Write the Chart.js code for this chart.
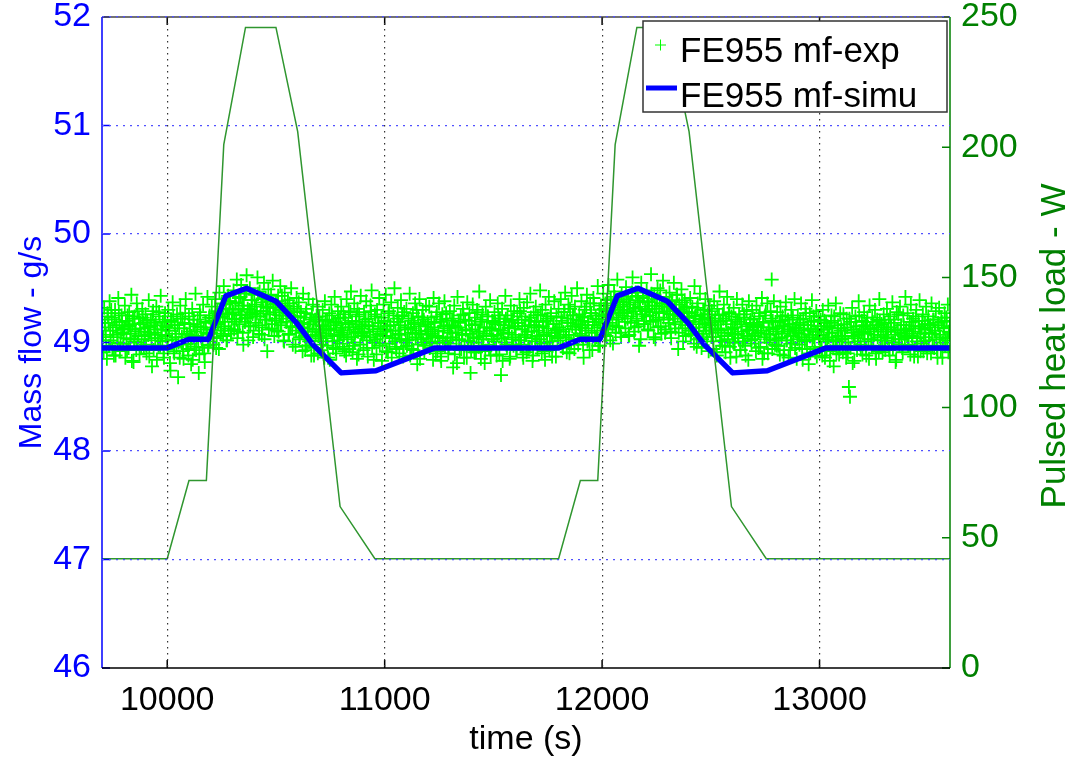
<!DOCTYPE html>
<html>
<head>
<meta charset="utf-8">
<script src="https://cdn.jsdelivr.net/npm/chart.js@4"></script>
<style>
  html, body { margin: 0; padding: 0; background: #fff; }
  canvas { display: block; }
</style>
</head>
<body>
<canvas id="chart" width="1074" height="760"></canvas>
<script>
// axes
const xMin = 9700, xMax = 13600;
const xTicks = [10000, 11000, 12000, 13000];
const flowTicks = [46, 47, 48, 49, 50, 51, 52];
const heatTicks = [0, 50, 100, 150, 200, 250];

// FE955 mf-exp, sampled every 5 s; run A starts at 9700 s, run B at 9702.5 s
const expStep = 5;
const expStartA = 9700;
const expFlowA = [
  49.21, 49.05, 49.32, 49.14, 48.96, 49.27, 49.18, 49.38, 49.02, 49.23, 49.11, 48.88, 49.30, 49.16, 49.07, 49.41, 49.19, 48.99, 49.25, 49.12,
  49.08, 49.34, 49.20, 48.93, 49.15, 49.28, 49.03, 49.44, 49.17, 48.82, 49.24, 49.10, 49.36, 49.00, 49.22, 49.13, 48.95, 49.31, 49.18, 49.06,
  49.26, 48.90, 49.14, 49.39, 49.09, 49.21, 48.78, 49.29, 49.16, 49.04, 49.33, 49.12, 48.97, 49.24, 49.43, 49.07, 49.19, 48.86, 49.27, 49.15,
  49.02, 49.30, 49.11, 48.74, 49.20, 49.37, 48.92, 49.16, 49.05, 49.26, 48.68, 49.13, 49.34, 49.00, 49.22, 48.85, 49.18, 49.40, 49.08, 48.94,
  49.24, 49.10, 48.80, 49.31, 49.17, 48.96, 49.45, 49.06, 49.21, 48.72, 49.28, 49.14, 49.03, 49.35, 48.90, 49.19, 49.09, 49.42, 48.98, 49.25,
  49.12, 49.33, 49.05, 49.22, 49.40, 48.95, 49.29, 49.18, 49.46, 49.08, 49.36, 49.24, 49.52, 49.15, 49.31, 49.02, 49.43, 49.27, 49.38, 49.11,
  49.30, 49.48, 49.19, 49.37, 49.58, 49.10, 49.41, 49.26, 49.53, 49.34, 48.98, 49.45, 49.22, 49.62, 49.31, 49.15, 49.50, 49.28, 49.39, 49.05,
  49.44, 49.24, 49.35, 49.60, 49.16, 49.47, 49.29, 49.07, 49.40, 49.55, 49.21, 49.33, 48.92, 49.49, 49.26, 49.38, 49.13, 49.57, 49.32, 49.20,
  49.36, 49.11, 49.43, 49.25, 49.52, 49.18, 49.30, 49.02, 49.46, 49.34, 49.22, 49.39, 49.08, 49.28, 49.50, 49.15, 49.33, 49.24, 48.96, 49.41,
  49.19, 49.37, 49.05, 49.28, 49.14, 49.45, 49.23, 48.93, 49.31, 49.10, 49.40, 49.17, 49.02, 49.26, 49.35, 48.88, 49.21, 49.12, 49.33, 49.06,
  49.24, 49.09, 48.98, 49.30, 49.15, 49.38, 49.04, 49.21, 48.86, 49.27, 49.12, 49.35, 49.01, 49.19, 49.42, 48.94, 49.16, 49.29, 49.07, 49.23,
  49.33, 49.11, 49.26, 48.92, 49.18, 49.40, 49.05, 49.29, 49.14, 49.47, 49.20, 48.97, 49.36, 49.09, 49.24, 49.31, 48.89, 49.17, 49.43, 49.13,
  49.06, 49.28, 49.19, 49.38, 48.95, 49.22, 49.10, 49.34, 49.48, 49.15, 48.84, 49.26, 49.03, 49.30, 49.18, 49.41, 49.08, 49.23, 48.99, 49.35,
  49.20, 49.44, 49.12, 48.91, 49.29, 49.16, 49.37, 49.04, 49.25, 49.50, 49.11, 48.96, 49.32, 49.19, 49.07, 49.39, 49.24, 48.87, 49.28, 49.14,
  49.31, 49.02, 49.22, 49.45, 49.13, 48.94, 49.27, 49.18, 49.36, 49.08, 48.80, 49.24, 49.40, 49.15, 49.03, 49.30, 49.21, 48.97, 49.34, 49.10,
  49.17, 49.33, 48.99, 49.23, 49.08, 49.41, 49.14, 48.90, 49.28, 49.05, 49.36, 49.19, 48.83, 49.26, 49.11, 49.38, 49.00, 49.22, 49.13, 48.95,
  49.29, 49.09, 49.20, 48.77, 49.34, 49.15, 49.02, 49.42, 49.18, 48.93, 49.25, 49.07, 49.31, 48.86, 49.21, 49.12, 49.37, 49.01, 49.27, 48.72,
  49.16, 49.35, 49.04, 49.23, 48.91, 49.30, 49.10, 49.47, 49.19, 48.97, 49.26, 49.06, 48.81, 49.33, 49.14, 49.24, 48.95, 49.39, 49.11, 49.20,
  49.03, 49.28, 49.17, 48.88, 49.36, 49.12, 49.22, 48.70, 49.31, 49.08, 49.19, 49.43, 48.98, 49.25, 49.14, 48.85, 49.34, 49.05, 49.21, 49.29,
  49.13, 48.94, 49.27, 49.18, 49.40, 49.02, 49.24, 48.89, 49.32, 49.15, 49.07, 49.37, 48.96, 49.20, 49.45, 49.10, 48.83, 49.28, 49.16, 49.33,
  49.06, 49.25, 49.14, 49.48, 48.99, 49.30, 49.19, 48.92, 49.35, 49.09, 49.22, 49.42, 49.01, 49.27, 48.87, 49.17, 49.38, 49.11, 49.24, 49.04,
  49.31, 49.12, 49.40, 49.20, 48.95, 49.28, 49.46, 49.07, 49.22, 49.35, 48.90, 49.18, 49.43, 49.25, 49.03, 49.33, 49.15, 49.50, 48.98, 49.26,
  49.14, 49.38, 49.23, 48.86, 49.30, 49.11, 49.44, 49.19, 49.02, 49.36, 49.27, 48.93, 49.41, 49.16, 49.25, 49.05, 49.52, 49.21, 48.97, 49.34,
  49.24, 49.45, 49.13, 49.36, 49.06, 49.29, 49.53, 49.18, 49.40, 49.27, 48.99, 49.47, 49.32, 49.15, 49.58, 49.23, 49.38, 49.09, 49.44, 49.30,
  49.35, 49.19, 49.51, 49.28, 49.42, 49.07, 49.37, 49.24, 49.60, 49.31, 49.14, 49.46, 49.22, 49.39, 48.97, 49.33, 49.55, 49.26, 49.43, 49.17,
  49.29, 49.48, 49.12, 49.37, 49.25, 49.63, 49.34, 49.20, 49.44, 49.03, 49.31, 49.50, 49.23, 49.40, 49.15, 49.36, 49.57, 49.27, 49.09, 49.42,
  49.33, 49.21, 49.46, 49.10, 49.38, 49.26, 49.55, 49.17, 49.30, 49.44, 48.94, 49.35, 49.24, 49.49, 49.13, 49.28, 49.39, 49.06, 49.32, 49.20,
  49.27, 49.41, 49.08, 49.33, 49.19, 49.52, 49.25, 48.96, 49.36, 49.14, 49.45, 49.22, 49.03, 49.30, 49.17, 49.40, 49.11, 49.26, 48.92, 49.34,
  49.16, 49.29, 49.05, 49.38, 49.22, 48.91, 49.31, 49.12, 49.47, 49.19, 49.02, 49.26, 49.35, 48.97, 49.20, 49.42, 49.09, 49.28, 48.86, 49.24,
  49.13, 49.32, 49.00, 49.21, 49.40, 49.08, 49.26, 48.93, 49.17, 49.35, 49.04, 49.23, 48.88, 49.29, 49.11, 49.38, 49.18, 49.02, 49.30, 49.14,
  49.22, 49.06, 49.34, 49.15, 48.95, 49.27, 49.11, 49.41, 49.19, 48.90, 49.25, 49.08, 49.36, 49.14, 49.03, 49.29, 49.58, 49.20, 49.38, 48.98,
  49.10, 49.28, 48.97, 49.19, 49.33, 49.05, 49.24, 48.88, 49.15, 49.37, 49.02, 49.21, 49.12, 48.93, 49.30, 49.17, 49.06, 49.40, 49.13, 48.85,
  49.25, 49.08, 49.18, 49.36, 48.94, 49.22, 49.11, 49.31, 49.02, 49.16, 48.80, 49.27, 49.13, 49.39, 49.05, 49.20, 48.91, 49.29, 49.10, 49.24,
  49.07, 49.21, 48.95, 49.30, 49.12, 48.86, 49.18, 49.03, 49.34, 49.14, 48.92, 49.25, 49.09, 48.78, 49.20, 49.36, 49.01, 49.16, 48.89, 49.27,
  49.13, 49.04, 49.26, 49.11, 48.97, 49.22, 48.90, 48.59, 48.50, 49.19, 49.32, 49.06, 48.83, 49.24, 49.15, 49.01, 49.38, 49.10, 48.94, 49.20,
  49.09, 49.28, 49.16, 48.88, 49.23, 49.03, 49.34, 49.12, 48.96, 49.19, 49.07, 49.30, 48.85, 49.21, 49.14, 49.40, 49.02, 49.17, 48.91, 49.26,
  49.18, 49.05, 49.31, 49.10, 48.93, 49.24, 49.14, 49.37, 49.00, 49.21, 48.82, 49.28, 49.11, 49.03, 49.33, 49.16, 48.95, 49.25, 49.08, 49.42,
  49.12, 49.27, 48.98, 49.19, 49.35, 49.06, 49.22, 48.87, 49.15, 49.30, 49.04, 49.20, 49.39, 48.92, 49.13, 49.26, 49.01, 49.17, 49.33, 48.90,
  49.24, 49.09, 49.16, 49.36, 48.97, 49.21, 49.11, 49.29, 48.94, 49.18, 49.32, 49.05, 49.23, 48.86, 49.14, 49.27, 49.02, 49.20, 49.35, 49.10,
  49.15
];
const expStartB = 9702.5;
const expFlowB = [
  49.02, 48.91, 49.18, 49.07, 48.85, 49.24, 48.97, 49.11, 49.30, 48.94, 49.05, 49.21, 48.88, 49.14, 49.00, 49.27, 48.92, 49.09, 49.19, 48.99,
  49.13, 48.86, 49.04, 49.25, 48.95, 49.16, 49.08, 48.83, 49.22, 49.01, 49.12, 48.93, 49.29, 49.06, 48.89, 49.17, 49.03, 49.23, 48.96, 49.10,
  48.98, 49.20, 49.07, 48.87, 49.15, 49.02, 49.26, 48.93, 49.09, 49.18, 48.84, 49.04, 49.28, 48.97, 49.12, 49.01, 48.90, 49.21, 49.06, 49.14,
  48.94, 49.11, 48.81, 49.19, 49.03, 49.24, 48.90, 49.08, 48.96, 49.16, 49.00, 48.86, 49.22, 49.05, 48.92, 49.13, 49.27, 48.98, 49.07, 48.88,
  49.17, 48.99, 49.06, 48.84, 49.21, 49.10, 48.93, 49.15, 49.02, 48.89, 49.25, 49.04, 48.95, 49.12, 48.82, 49.18, 49.08, 48.97, 49.23, 49.01,
  49.09, 49.20, 48.98, 49.14, 49.27, 49.04, 49.17, 48.94, 49.23, 49.11, 49.31, 49.06, 49.19, 49.35, 49.02, 49.26, 49.13, 49.38, 49.08, 49.22,
  49.28, 49.12, 49.36, 49.21, 49.04, 49.31, 49.17, 49.42, 49.25, 49.09, 49.34, 49.19, 49.47, 49.23, 49.02, 49.30, 49.15, 49.39, 49.26, 49.11,
  49.33, 49.18, 49.27, 49.45, 49.08, 49.24, 49.37, 49.14, 49.29, 49.03, 49.40, 49.21, 49.32, 49.12, 49.26, 49.44, 49.17, 49.35, 49.06, 49.28,
  49.22, 49.38, 49.10, 49.30, 49.16, 49.43, 49.25, 49.01, 49.33, 49.19, 49.27, 49.07, 49.36, 49.14, 49.24, 48.98, 49.31, 49.20, 49.11, 49.29,
  49.15, 49.03, 49.24, 49.09, 48.92, 49.18, 49.06, 49.27, 48.97, 49.13, 49.01, 49.21, 48.88, 49.10, 49.19, 48.95, 49.07, 49.23, 48.90, 49.12,
  49.04, 48.93, 49.16, 49.01, 48.86, 49.20, 49.08, 48.97, 49.13, 48.84, 49.11, 49.25, 48.95, 49.06, 49.18, 48.90, 49.02, 49.22, 48.99, 49.09,
  49.14, 48.96, 49.07, 49.23, 48.88, 49.03, 49.17, 48.94, 49.28, 49.05, 48.91, 49.12, 49.00, 49.19, 48.85, 49.10, 49.26, 48.98, 49.08, 49.15,
  48.93, 49.09, 49.21, 49.02, 48.87, 49.16, 49.05, 49.29, 48.95, 49.12, 49.00, 49.24, 48.89, 49.07, 49.18, 48.97, 49.13, 48.83, 49.10, 49.20,
  49.06, 48.92, 49.15, 49.27, 48.99, 49.11, 48.86, 49.04, 49.19, 49.01, 48.94, 49.22, 49.08, 48.90, 49.16, 49.03, 49.25, 48.96, 49.12, 49.00,
  48.97, 49.14, 49.03, 48.88, 49.20, 49.09, 48.93, 49.17, 49.05, 49.30, 48.98, 49.11, 48.85, 49.07, 49.23, 49.00, 48.91, 49.15, 49.04, 49.19,
  49.08, 48.95, 49.12, 49.01, 48.84, 49.18, 49.06, 49.24, 48.92, 49.10, 49.00, 48.87, 49.21, 49.04, 49.15, 48.96, 49.27, 49.02, 48.90, 49.13,
  48.99, 49.16, 49.05, 49.22, 48.89, 49.09, 48.81, 49.14, 49.03, 49.19, 48.94, 49.07, 49.26, 48.97, 49.11, 48.86, 49.02, 49.20, 49.08, 48.93,
  49.12, 49.00, 48.91, 49.17, 49.05, 49.28, 48.96, 49.10, 48.85, 49.21, 49.03, 49.14, 48.92, 49.08, 49.24, 48.98, 49.13, 48.88, 49.06, 49.18,
  49.01, 49.19, 48.94, 49.07, 49.25, 48.89, 49.11, 49.04, 48.83, 49.16, 49.00, 49.22, 48.95, 49.09, 49.13, 48.87, 49.20, 49.03, 48.97, 49.15,
  49.07, 48.93, 49.18, 49.02, 49.29, 48.98, 49.12, 48.86, 49.05, 49.21, 48.91, 49.10, 49.16, 48.96, 49.23, 49.04, 48.88, 49.14, 49.01, 49.19,
  48.95, 49.11, 49.03, 49.26, 48.90, 49.15, 49.07, 48.84, 49.20, 49.00, 49.13, 48.93, 49.24, 49.06, 48.97, 49.17, 49.09, 48.87, 49.12, 49.05,
  49.14, 49.02, 49.23, 48.96, 49.10, 49.28, 49.05, 48.91, 49.18, 49.07, 49.31, 48.99, 49.15, 49.25, 48.94, 49.12, 49.21, 49.03, 49.17, 49.08,
  49.20, 49.06, 48.98, 49.24, 49.13, 49.33, 49.01, 49.16, 48.93, 49.27, 49.09, 49.19, 49.36, 49.04, 49.22, 49.11, 48.97, 49.30, 49.14, 49.25,
  49.18, 49.31, 49.07, 49.26, 49.39, 49.12, 49.23, 49.02, 49.34, 49.16, 49.28, 49.42, 49.09, 49.21, 49.37, 49.14, 49.30, 49.05, 49.25, 49.33,
  49.27, 49.13, 49.40, 49.22, 49.06, 49.35, 49.18, 49.46, 49.29, 49.10, 49.32, 49.20, 49.43, 49.15, 49.37, 49.03, 49.26, 49.41, 49.17, 49.30,
  49.24, 49.38, 49.11, 49.31, 49.19, 49.45, 49.28, 49.05, 49.34, 49.21, 49.40, 49.14, 49.27, 49.48, 49.08, 49.33, 49.23, 49.36, 49.12, 49.29,
  49.35, 49.18, 49.26, 49.04, 49.39, 49.22, 49.31, 49.13, 49.44, 49.25, 49.09, 49.30, 49.19, 49.37, 49.01, 49.28, 49.16, 49.33, 49.23, 49.11,
  49.19, 49.07, 49.28, 49.13, 48.99, 49.24, 49.10, 49.32, 49.03, 49.17, 49.26, 48.95, 49.21, 49.08, 49.30, 49.14, 49.01, 49.23, 49.11, 49.18,
  49.05, 49.16, 48.94, 49.20, 49.09, 48.88, 49.13, 49.25, 49.01, 49.11, 48.97, 49.22, 49.06, 48.91, 49.17, 49.03, 49.27, 48.96, 49.12, 49.08,
  49.00, 49.14, 49.07, 48.87, 49.19, 49.04, 49.23, 48.93, 49.10, 49.01, 49.26, 48.97, 49.15, 49.06, 48.84, 49.12, 49.21, 48.99, 49.08, 49.17,
  49.03, 48.92, 49.16, 49.09, 49.24, 48.96, 49.11, 48.85, 49.18, 49.05, 49.28, 49.00, 48.90, 49.14, 49.07, 49.22, 48.94, 49.12, 49.02, 49.19,
  48.97, 49.13, 49.04, 48.89, 49.20, 49.08, 49.15, 48.93, 49.25, 49.02, 49.10, 48.86, 49.17, 49.06, 48.99, 49.23, 49.11, 48.95, 49.14, 49.03,
  49.09, 48.98, 49.21, 49.05, 48.84, 49.16, 49.01, 49.27, 48.94, 49.12, 49.07, 48.90, 49.19, 49.03, 49.24, 48.96, 49.10, 48.87, 49.15, 49.04,
  48.96, 49.12, 48.88, 49.07, 49.20, 49.01, 48.92, 49.15, 49.05, 48.83, 49.18, 49.09, 48.97, 49.24, 49.02, 48.90, 49.13, 49.06, 48.94, 49.11,
  49.03, 48.91, 49.17, 49.06, 48.86, 49.14, 49.00, 49.22, 48.95, 49.09, 48.81, 49.12, 49.04, 49.19, 48.93, 49.07, 49.25, 48.98, 49.10, 48.89,
  49.15, 49.01, 48.94, 49.19, 49.08, 48.85, 49.13, 49.03, 49.23, 48.97, 49.10, 48.90, 49.16, 49.05, 48.92, 49.20, 49.07, 48.96, 49.12, 49.02,
  48.93, 49.10, 49.04, 49.21, 48.88, 49.14, 49.00, 48.95, 49.18, 49.07, 48.84, 49.12, 49.26, 48.98, 49.09, 49.03, 48.91, 49.16, 49.05, 49.11,
  49.06, 48.97, 49.13, 48.89, 49.19, 49.04, 49.10, 48.94, 49.24, 49.01, 48.87, 49.15, 49.08, 48.99, 49.20, 48.92, 49.12, 49.05, 48.96, 49.17,
  49.02, 49.14, 48.90, 49.08, 49.21, 48.95, 49.11, 49.03, 48.86, 49.16, 49.07, 48.93, 49.19, 49.00, 49.13, 48.97, 49.23, 49.04, 48.91, 49.09
];

// FE955 mf-simu
const simTime = [9700, 10000, 10100, 10190, 10270, 10365, 10500, 10595, 10670, 10800, 10960, 11230,
                 11800, 11900, 11990, 12070, 12165, 12300, 12395, 12470, 12600, 12760, 13030, 13600];
const simFlow = [48.95, 48.95, 49.03, 49.03, 49.43, 49.50, 49.38, 49.18, 48.98, 48.72, 48.74, 48.95,
                 48.95, 49.03, 49.03, 49.43, 49.50, 49.38, 49.18, 48.98, 48.72, 48.74, 48.95, 48.95];

// pulsed heat load (W)
const heatTime = [9700, 10000, 10100, 10180, 10260, 10360, 10500, 10600, 10795, 10955,
                  11800, 11900, 11980, 12060, 12160, 12300, 12400, 12595, 12755, 13600];
const heatLoad = [42, 42, 72, 72, 201, 246, 246, 206, 62, 42,
                  42, 72, 72, 201, 246, 246, 206, 62, 42, 42];

const FONT = '"Liberation Sans", Arial, Helvetica, sans-serif';
const BLUE = '#0000ff';
const GREEN = '#008000';

const expPoints = expFlowA.map((v, i) => ({ x: expStartA + i * expStep, y: v }))
  .concat(expFlowB.map((v, i) => ({ x: expStartB + i * expStep, y: v })));
const simPoints = simTime.map((t, i) => ({ x: t, y: simFlow[i] }));
const heatPoints = heatTime.map((t, i) => ({ x: t, y: heatLoad[i] }));

// axis box with inward ticks, like matlab
const axesFrame = {
  id: 'axesFrame',
  afterDatasetsDraw(chart) {
    const { ctx, chartArea: a, scales } = chart;
    const tick = 8;
    ctx.save();
    ctx.lineWidth = 1.5;
    ctx.strokeStyle = BLUE;
    ctx.beginPath();
    flowTicks.forEach(v => {
      const y = scales.y.getPixelForValue(v);
      ctx.moveTo(a.left, y); ctx.lineTo(a.left + tick, y);
    });
    ctx.moveTo(a.left, a.top); ctx.lineTo(a.left, a.bottom);
    ctx.stroke();

    ctx.strokeStyle = GREEN;
    ctx.beginPath();
    heatTicks.forEach(v => {
      const y = scales.y2.getPixelForValue(v);
      ctx.moveTo(a.right, y); ctx.lineTo(a.right - tick, y);
    });
    ctx.moveTo(a.right, a.top); ctx.lineTo(a.right, a.bottom);
    ctx.stroke();

    ctx.strokeStyle = '#000';
    ctx.beginPath();
    xTicks.forEach(v => {
      const x = scales.x.getPixelForValue(v);
      ctx.moveTo(x, a.bottom); ctx.lineTo(x, a.bottom - tick);
      ctx.moveTo(x, a.top); ctx.lineTo(x, a.top + tick);
    });
    ctx.moveTo(a.left, a.bottom); ctx.lineTo(a.right, a.bottom);
    ctx.stroke();

    ctx.strokeStyle = '#444';
    ctx.beginPath();
    ctx.moveTo(a.left, a.top); ctx.lineTo(a.right, a.top);
    ctx.stroke();
    ctx.restore();
  }
};

// legend box + right axis title (reads bottom to top)
const extras = {
  id: 'extras',
  afterDraw(chart) {
    const { ctx, chartArea: a } = chart;
    const ds = chart.data.datasets;
    ctx.save();

    ctx.fillStyle = GREEN;
    ctx.font = '35px ' + FONT;
    ctx.textAlign = 'center';
    ctx.textBaseline = 'middle';
    ctx.translate(1055, 346);
    ctx.rotate(-Math.PI / 2);
    ctx.fillText('Pulsed heat load - W', 0, 0);
    ctx.setTransform(1, 0, 0, 1, 0, 0);

    const bx = a.right - 307, by = a.top + 4, bw = 304, bh = 91;
    ctx.fillStyle = '#fff';
    ctx.fillRect(bx, by, bw, bh);
    ctx.strokeStyle = '#333';
    ctx.lineWidth = 1.5;
    ctx.strokeRect(bx, by, bw, bh);

    // marker for exp
    ctx.strokeStyle = ds[0].borderColor;
    ctx.lineWidth = 1;
    ctx.beginPath();
    ctx.moveTo(bx + 12, by + 24); ctx.lineTo(bx + 23, by + 24);
    ctx.moveTo(bx + 17.5, by + 18.5); ctx.lineTo(bx + 17.5, by + 29.5);
    ctx.stroke();
    // line for simu
    ctx.strokeStyle = ds[1].borderColor;
    ctx.lineWidth = 5;
    ctx.beginPath();
    ctx.moveTo(bx + 3, by + 67); ctx.lineTo(bx + 34, by + 67);
    ctx.stroke();

    ctx.fillStyle = '#000';
    ctx.font = '35px ' + FONT;
    ctx.textAlign = 'left';
    ctx.textBaseline = 'alphabetic';
    ctx.fillText(ds[0].label, bx + 37, by + 41);
    ctx.fillText(ds[1].label, bx + 37, by + 86);
    ctx.restore();
  }
};

const tickFont = { family: FONT, size: 34 };

new Chart(document.getElementById('chart'), {
  type: 'scatter',
  data: {
    datasets: [
      {
        label: 'FE955 mf-exp',
        data: expPoints,
        yAxisID: 'y',
        pointStyle: 'cross',
        pointRadius: 7,
        borderWidth: 1.8,
        borderColor: '#00ff00',
        backgroundColor: '#00ff00',
        order: 3
      },
      {
        label: 'FE955 mf-simu',
        data: simPoints,
        yAxisID: 'y',
        showLine: true,
        pointRadius: 0,
        borderWidth: 5.5,
        borderColor: BLUE,
        borderJoinStyle: 'round',
        order: 2
      },
      {
        label: 'Pulsed heat load',
        data: heatPoints,
        yAxisID: 'y2',
        showLine: true,
        pointRadius: 0,
        borderWidth: 1.5,
        borderColor: '#2f962f',
        order: 1
      }
    ]
  },
  options: {
    responsive: false,
    animation: false,
    devicePixelRatio: 1,
    layout: { padding: { top: 17, left: 0, right: 0, bottom: 0 } },
    plugins: { legend: { display: false }, tooltip: { enabled: false } },
    scales: {
      x: {
        type: 'linear',
        min: xMin,
        max: xMax,
        afterBuildTicks: s => { s.ticks = xTicks.map(v => ({ value: v })); },
        afterFit: s => { s.height = 92; s.paddingLeft = 0; s.paddingRight = 0; },
        ticks: { color: '#000', font: tickFont, padding: 12, maxRotation: 0, callback: v => String(v) },
        grid: { z: 1, color: '#333', lineWidth: 1.2, drawTicks: false },
        border: { display: false, dash: [1.5, 4.5] },
        title: { display: true, text: 'time (s)', color: '#000', font: { family: FONT, size: 34 }, padding: { top: 0, bottom: 0 } }
      },
      y: {
        position: 'left',
        min: 46,
        max: 52,
        afterBuildTicks: s => { s.ticks = flowTicks.map(v => ({ value: v })); },
        afterFit: s => { s.width = 102; s.paddingTop = 0; s.paddingBottom = 0; },
        ticks: { color: BLUE, font: tickFont, padding: 11, callback: v => String(v) },
        grid: {
          z: 1,
          color: c => (c.tick && c.tick.value === 46) ? 'rgba(0,0,0,0)' : '#5050ff',
          lineWidth: 1.3,
          drawTicks: false
        },
        border: { display: false, dash: [2, 5] },
        title: { display: true, text: 'Mass flow - g/s', color: BLUE, font: { family: FONT, size: 32 }, padding: { top: 13, bottom: 0 } }
      },
      y2: {
        position: 'right',
        min: 0,
        max: 250,
        afterBuildTicks: s => { s.ticks = heatTicks.map(v => ({ value: v })); },
        afterFit: s => { s.width = 124; s.paddingTop = 0; s.paddingBottom = 0; },
        ticks: { color: GREEN, font: tickFont, padding: 11, callback: v => String(v) },
        grid: { drawOnChartArea: false, drawTicks: false },
        border: { display: false }
      }
    }
  },
  plugins: [axesFrame, extras]
});
</script>
</body>
</html>
